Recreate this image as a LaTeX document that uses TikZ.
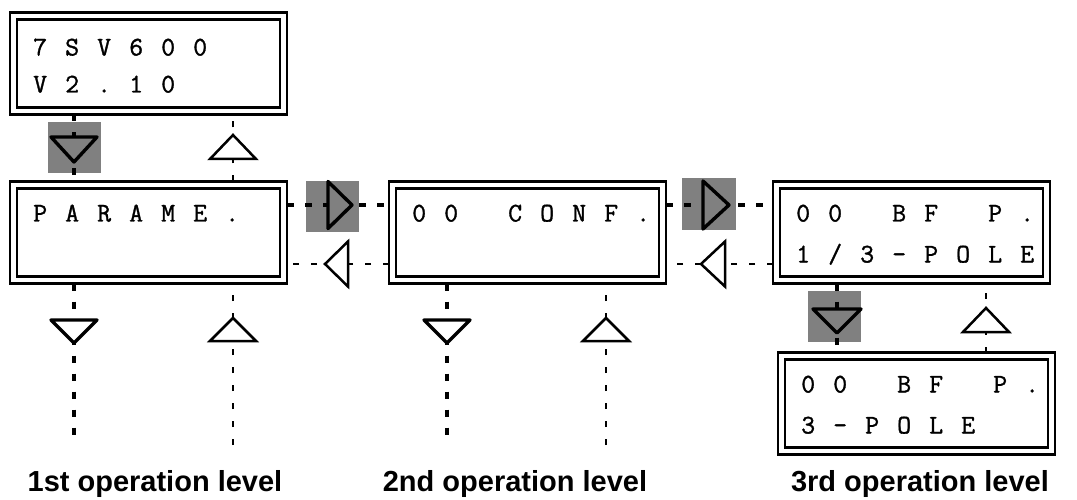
\documentclass[tikz,border=0pt]{standalone}
\usepackage{fontspec}
\newfontfamily\labelfont{Liberation Sans}
\newfontfamily\lcdfont{Latin Modern Mono}[FakeBold=1.2]
\usetikzlibrary{calc}
\definecolor{keygray}{RGB}{128,128,128}
\def\lcd#1{\lcdloop#1\relax}
\def\lcdloop#1{\ifx\relax#1\else\makebox[32pt][c]{\ifx*#1\else#1\fi}\expandafter\lcdloop\fi}
\begin{document}
\begin{tikzpicture}[x=1pt,y=-1pt,
  lcdbox/.style={draw, line width=2.4pt, minimum width=277pt, minimum height=102pt, inner sep=0pt, outer sep=0pt},
  lcdinner/.style={line width=2.8pt},
  lcdtext/.style={anchor=base west, inner sep=0pt, font=\fontsize{27}{32}\selectfont\lcdfont},
  lbl/.style={anchor=base, inner sep=0pt, font=\labelfont\bfseries\fontsize{29}{34}\selectfont},
  thickdash/.style={line width=3.8pt, dash pattern=on 7pt off 11pt},
  thindash/.style={line width=2.8pt, dash pattern=on 6pt off 12pt},
  keybg/.style={fill=keygray, draw=none},
  hitri/.style={fill=keygray, draw=black, line width=3.4pt, line join=round},
  thicktri/.style={fill=white, draw=black, line width=3.4pt, line join=round},
  thintri/.style={fill=white, draw=black, line width=2.5pt, line join=miter},
]
\useasboundingbox (0,0) rectangle (1077,500);

% boxes
\node[lcdbox] (b1) at (148.5,63.5) {};
\node[lcdbox] (b2) at (148.5,232.5) {};
\node[lcdbox] (b3) at (527.5,232.5) {};
\node[lcdbox] (b4) at (911.5,232.5) {};
\node[lcdbox] (b5) at (916.5,403.5) {};
\foreach \b in {b1,b2,b3,b4,b5}
  \draw[lcdinner] ($(\b.north west)+(7,7)$) rectangle ($(\b.south east)+(-7,-7)$);

% texts
\node[lcdtext] (b1a) at ($(b1.north west)+(14,43)$) {\lcd{7SV600}};
\node[lcdtext] (b1b) at ($(b1.north west)+(14,80)$) {\lcd{V2.10}};
\node[lcdtext] (b2a) at ($(b2.north west)+(14,40)$) {\lcd{PARAME.}};
\node[lcdtext] (b3a) at ($(b3.north west)+(14,40)$) {\lcd{00*CONF.}};
\node[lcdtext] (b4a) at ($(b4.north west)+(14,40)$) {\lcd{00*BF*P.}};
\node[lcdtext] (b4b) at ($(b4.north west)+(14,81)$) {\lcd{1/3-POLE}};
\node[lcdtext] (b5a) at ($(b5.north west)+(14,40)$) {\lcd{00*BF*P.}};
\node[lcdtext] (b5b) at ($(b5.north west)+(14,81)$) {\lcd{3-POLE}};

% labels
\node[lbl] (l1) at (155,491) {1st operation level};
\node[lbl] (l2) at (515,491) {2nd operation level};
\node[lbl] (l3) at (920,491) {3rd operation level};

% key positions
\coordinate (d1) at (74,149.5);   % down, b1->b2 (highlighted)
\coordinate (u1) at (233,147);    % up, b2->b1
\coordinate (d2) at (74,331.5);   % down below b2
\coordinate (u2) at (233,329.5);  % up below b2
\coordinate (d3) at (447,331.5);
\coordinate (u3) at (606,329.5);
\coordinate (d4) at (837,321);    % down b4->b5 (highlighted)
\coordinate (u4) at (986,320);
\coordinate (r1) at (340,205);    % right b2->b3 (highlighted)
\coordinate (lf1) at (336.5,264);
\coordinate (r2) at (716,205);    % right b3->b4 (highlighted)
\coordinate (lf2) at (713,264);
% free ends
\coordinate (e2d) at (74,445);
\coordinate (e2u) at (233,445);
\coordinate (e3d) at (447,445);
\coordinate (e3u) at (606,445);

% highlight squares
\fill[keybg] (48,122) rectangle (101,173);
\fill[keybg] (808,291) rectangle (861,342);
\fill[keybg] (306,181) rectangle (359,232);
\fill[keybg] (682,178) rectangle (736,230);

% connectors
\draw[thickdash] (b1.south -| d1) -- (b2.north -| d1);
\draw[thindash] (b2.north -| u1) -- (b1.south -| u1);
\draw[thickdash] (b2.south -| d2) -- (e2d);
\draw[thindash] (e2u) -- (b2.south -| u2);
\draw[thickdash] (b3.south -| d3) -- (e3d);
\draw[thindash] (e3u) -- (b3.south -| u3);
\draw[thickdash] (b4.south -| d4) -- (b5.north -| d4);
\draw[thindash] (b5.north -| u4) -- (b4.south -| u4);
\draw[thickdash] (b2.east |- r1) -- (b3.west |- r1);
\draw[thindash] (b3.west |- lf1) -- (b2.east |- lf1);
\draw[thickdash] (b3.east |- r2) -- (b4.west |- r2);
\draw[thindash] (b4.west |- lf2) -- (b3.east |- lf2);

% triangles
\draw[hitri] ($(d1)+(-23,-12.5)$) -- ($(d1)+(23,-12.5)$) -- ($(d1)+(0,12.5)$) -- cycle;
\draw[hitri] ($(d4)+(-24,-12)$) -- ($(d4)+(24,-12)$) -- ($(d4)+(0,12)$) -- cycle;
\draw[hitri] ($(r1)+(-12,-23.5)$) -- ($(r1)+(12,0)$) -- ($(r1)+(-12,23.5)$) -- cycle;
\draw[hitri] ($(r2)+(-13,-24)$) -- ($(r2)+(13,0)$) -- ($(r2)+(-13,24)$) -- cycle;
\draw[thicktri] ($(d2)+(-23,-11.5)$) -- ($(d2)+(23,-11.5)$) -- ($(d2)+(0,11.5)$) -- cycle;
\draw[thicktri] ($(d3)+(-23,-11.5)$) -- ($(d3)+(23,-11.5)$) -- ($(d3)+(0,11.5)$) -- cycle;
\draw[thintri] ($(u1)+(-23,12)$) -- ($(u1)+(23,12)$) -- ($(u1)+(0,-12)$) -- cycle;
\draw[thintri] ($(u2)+(-23,11.5)$) -- ($(u2)+(23,11.5)$) -- ($(u2)+(0,-11.5)$) -- cycle;
\draw[thintri] ($(u3)+(-23,11.5)$) -- ($(u3)+(23,11.5)$) -- ($(u3)+(0,-11.5)$) -- cycle;
\draw[thintri] ($(u4)+(-23,12)$) -- ($(u4)+(23,12)$) -- ($(u4)+(0,-12)$) -- cycle;
\draw[thintri] ($(lf1)+(-11.5,0)$) -- ($(lf1)+(11.5,-22.5)$) -- ($(lf1)+(11.5,22.5)$) -- cycle;
\draw[thintri] ($(lf2)+(-12,0)$) -- ($(lf2)+(12,-22.5)$) -- ($(lf2)+(12,22.5)$) -- cycle;
\end{tikzpicture}
\end{document}
